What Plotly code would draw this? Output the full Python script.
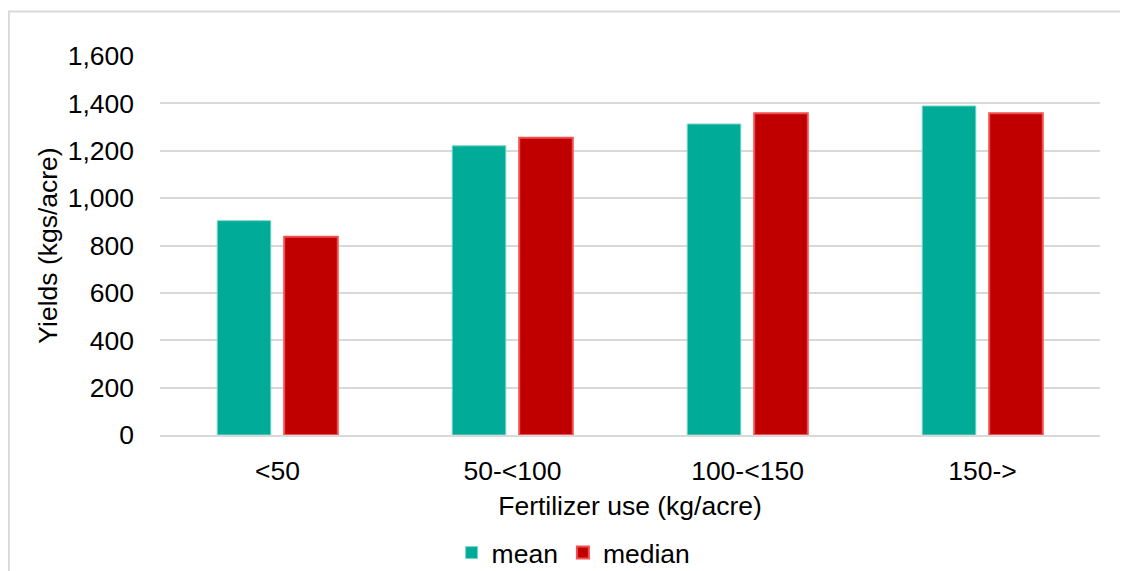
import plotly.graph_objects as go

categories = ["<50", "50-<100", "100-<150", "150->"]
mean_vals = [905, 1221, 1313, 1389]
median_vals = [837, 1255, 1358, 1358]
y_ticks = [0, 200, 400, 600, 800, 1000, 1200, 1400, 1600]
y_tick_text = ["0", "200", "400", "600", "800", "1,000", "1,200", "1,400", "1,600"]

FONT = "Liberation Sans, Arial, sans-serif"
FS = 26.5

fig = go.Figure()
fig.add_trace(go.Bar(
    x=categories, y=mean_vals, name="mean",
    marker=dict(color="#00AC97", line=dict(color="#7FD5CA", width=1)),
))
fig.add_trace(go.Bar(
    x=categories, y=median_vals, name="median",
    marker=dict(color="#C00000", line=dict(color="#F25050", width=2)),
))

fig.update_layout(
    width=1120, height=563,
    margin=dict(l=152, r=28, t=48, b=136, autoexpand=False),
    paper_bgcolor="white", plot_bgcolor="white",
    font=dict(family=FONT, size=FS, color="#000000"),
    barmode="group", bargap=0.43, bargroupgap=0.2,
    showlegend=True,
    legend=dict(orientation="h", xref="paper", x=0.44, xanchor="center",
                yref="paper", y=-0.311, yanchor="middle",
                font=dict(size=FS), itemwidth=30, traceorder="normal"),
    xaxis=dict(
        showgrid=False, showline=True, linecolor="#D9D9D9", linewidth=2,
        ticks="", tickfont=dict(size=FS), ticklabelstandoff=11, automargin=False,
        title=dict(text="Fertilizer use (kg/acre)", font=dict(size=FS), standoff=12),
    ),
    yaxis=dict(
        range=[0, 1600], tickvals=y_ticks, ticktext=y_tick_text,
        showgrid=True, gridcolor="#D9D9D9", gridwidth=2,
        zeroline=False, showline=False, ticks="", tickfont=dict(size=FS),
        ticklabelstandoff=25, automargin=False,
        title=dict(text="Yields (kgs/acre)", font=dict(size=FS), standoff=2),
    ),
    shapes=[dict(
        type="rect", xref="paper", yref="paper",
        x0=(0.8 - 152) / 940, x1=1.05, y0=-0.45, y1=(427 - 3.5) / 379,
        line=dict(color="#D9D9D9", width=2), fillcolor="rgba(0,0,0,0)", layer="below",
    )],
)

fig.write_html("out.html")
